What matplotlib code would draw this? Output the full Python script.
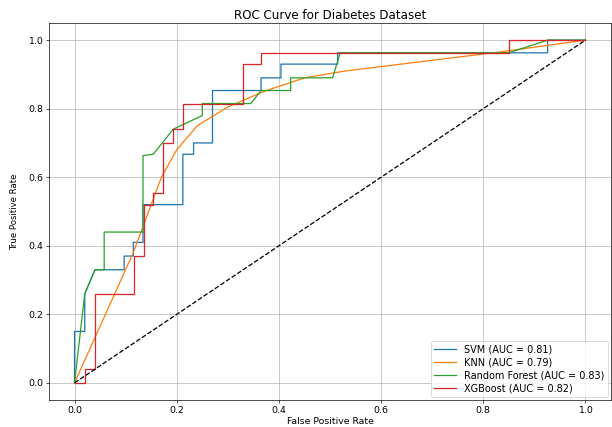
import matplotlib
matplotlib.use("Agg")
import matplotlib.pyplot as plt

# ROC curve points
svm_fpr = [0, 0, 0.02, 0.02, 0.04, 0.097, 0.097, 0.115, 0.115, 0.134, 0.134, 0.212, 0.212,
           0.233, 0.233, 0.27, 0.27, 0.365, 0.365, 0.404, 0.404, 0.515, 0.515, 0.926, 0.926, 1.0]
svm_tpr = [0, 0.15, 0.15, 0.26, 0.33, 0.33, 0.37, 0.37, 0.41, 0.41, 0.52, 0.52, 0.667,
           0.667, 0.70, 0.70, 0.853, 0.853, 0.89, 0.89, 0.93, 0.93, 0.963, 0.963, 1.0, 1.0]

knn_fpr = [0, 0.115, 0.14, 0.17, 0.2, 0.24, 0.3, 0.37, 0.45, 0.53, 0.83, 1.0]
knn_tpr = [0, 0.38, 0.48, 0.6, 0.68, 0.75, 0.805, 0.85, 0.89, 0.91, 0.965, 1.0]

rf_fpr = [0, 0.02, 0.04, 0.058, 0.058, 0.134, 0.134, 0.154, 0.193, 0.25, 0.25, 0.345, 0.365,
          0.423, 0.423, 0.505, 0.52, 0.85, 0.926, 1.0]
rf_tpr = [0, 0.26, 0.33, 0.33, 0.44, 0.44, 0.663, 0.667, 0.74, 0.78, 0.815, 0.815, 0.853,
          0.853, 0.89, 0.89, 0.963, 0.963, 1.0, 1.0]

xgb_fpr = [0, 0.02, 0.02, 0.04, 0.04, 0.117, 0.117, 0.136, 0.136, 0.154, 0.154, 0.173, 0.173,
           0.193, 0.193, 0.212, 0.212, 0.33, 0.33, 0.365, 0.365, 0.85, 0.85, 1.0]
xgb_tpr = [0, 0, 0.04, 0.04, 0.26, 0.26, 0.37, 0.37, 0.52, 0.52, 0.555, 0.555, 0.70,
           0.70, 0.74, 0.74, 0.815, 0.815, 0.93, 0.93, 0.963, 0.963, 1.0, 1.0]

model_names = ["SVM", "KNN", "Random Forest", "XGBoost"]
auc_values = [0.81, 0.79, 0.83, 0.82]

curves = [(svm_fpr, svm_tpr), (knn_fpr, knn_tpr), (rf_fpr, rf_tpr), (xgb_fpr, xgb_tpr)]

plt.rcParams["xtick.labelsize"] = 11
plt.rcParams["ytick.labelsize"] = 11

fig = plt.figure(figsize=(10, 427 / 61.2), dpi=61.2)
ax = fig.add_axes([49 / 612, 1 - 400 / 427, (611 - 49) / 612, (400 - 23) / 427])

for (fpr, tpr), name, auc in zip(curves, model_names, auc_values):
    ax.plot(fpr, tpr, label=f"{name} (AUC = {auc:.2f})")

ax.plot([0, 1], [0, 1], "k--")
ax.set_xlabel("False Positive Rate", fontsize=11, labelpad=3)
ax.set_ylabel("True Positive Rate", fontsize=10, labelpad=10)
ax.set_title("ROC Curve for Diabetes Dataset", fontsize=14, pad=5)
ax.legend(loc="lower right", fontsize=11.5, labelspacing=0.3, borderpad=0.35,
          handlelength=2.2, borderaxespad=0.35)
ax.grid(True)

fig.savefig("out.png", dpi=61.2)
